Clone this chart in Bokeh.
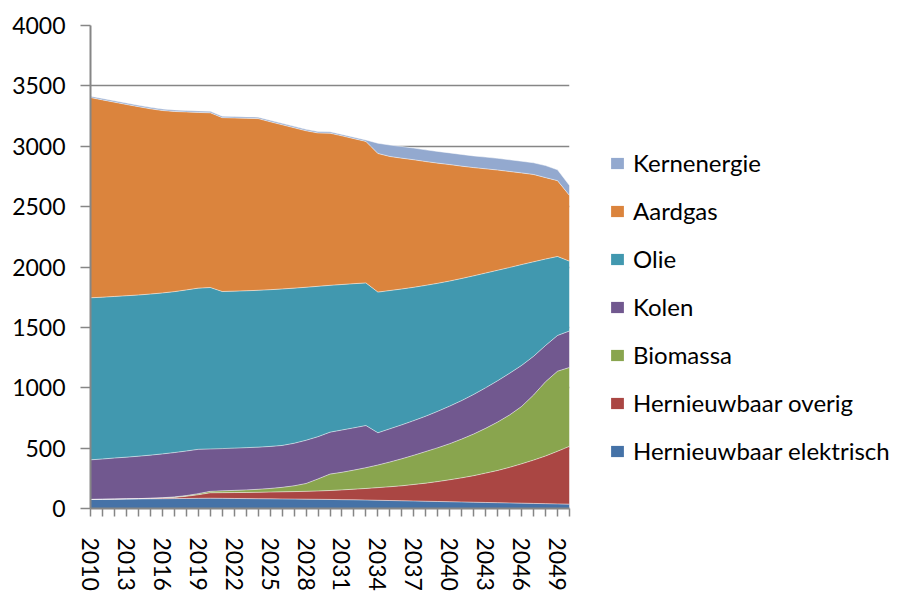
from bokeh.plotting import figure
from bokeh.models import (ColumnDataSource, Range1d, FixedTicker, Legend, LegendItem)
from bokeh.embed import file_html
from bokeh.resources import INLINE

years = list(range(2010, 2051))

hernieuwbaar_elektrisch = [75, 76, 77, 78, 79, 80, 81, 82, 83, 84, 85, 84, 83, 82, 81, 80, 79, 78, 77, 76,
                           75, 73, 72, 70, 68, 66, 64, 62, 60, 58, 56, 54, 52, 50, 48, 46, 44, 42, 40, 38, 36]
hernieuwbaar_overig = [0, 0, 1, 2, 3, 4, 6, 10, 18, 30, 45, 47, 49, 51, 53, 56, 59, 62, 65, 69,
                       74, 81, 88, 96, 105, 114, 124, 137, 150, 165, 182, 200, 220, 243, 267, 295, 326, 359, 395, 436, 479]
biomassa = [0, 0, 0, 0, 0, 1, 2, 4, 6, 9, 12, 15, 18, 21, 25, 30, 37, 48, 65, 100,
            136, 146, 158, 172, 187, 205, 224, 242, 262, 280, 299, 321, 345, 371, 401, 434, 475, 539, 615, 663, 653]
kolen = [328, 334, 340, 345, 351, 357, 363, 367, 369, 367, 351, 350, 350, 350, 349, 348, 347, 352, 358, 350,
         347, 350, 350, 349, 267, 275, 281, 287, 293, 302, 311, 319, 328, 336, 342, 345, 340, 320, 300, 296, 302]
olie = [1342, 1340, 1338, 1337, 1335, 1334, 1333, 1333, 1334, 1335, 1337, 1301, 1300, 1299, 1299, 1298, 1296, 1285, 1267, 1245,
        1216, 1205, 1194, 1181, 1165, 1145, 1125, 1104, 1083, 1060, 1036, 1011, 982, 950, 915, 876, 835, 783, 716, 654, 578]
aardgas = [1658, 1634, 1609, 1584, 1560, 1534, 1511, 1492, 1474, 1455, 1447, 1440, 1434, 1428, 1422, 1391, 1360, 1328, 1296, 1270,
           1260, 1231, 1201, 1172, 1148, 1110, 1083, 1056, 1025, 995, 964, 930, 896, 863, 830, 795, 759, 723, 674, 628, 544]
kernenergie = [12] * 24 + [85, 95] + [97] * 12 + [100, 90, 83]

series_names = ["Hernieuwbaar elektrisch", "Hernieuwbaar overig", "Biomassa", "Kolen", "Olie", "Aardgas", "Kernenergie"]
series_keys = ["he", "ho", "bio", "kolen", "olie", "gas", "kern"]
series_colors = ["#4572A7", "#AA4643", "#89A54E", "#71588F", "#4198AF", "#DB843D", "#93A9CF"]

y_ticks = [0, 500, 1000, 1500, 2000, 2500, 3000, 3500, 4000]
x_label_years = list(range(2010, 2051, 3))

source = ColumnDataSource(dict(year=years, he=hernieuwbaar_elektrisch, ho=hernieuwbaar_overig,
                               bio=biomassa, kolen=kolen, olie=olie, gas=aardgas, kern=kernenergie))

FONT = "Lato"
GRAY = "#868686"

p = figure(frame_width=479, frame_height=483, output_backend="svg", toolbar_location=None,
           x_range=Range1d(2010, 2050), y_range=Range1d(0, 4000),
           min_border_left=90, min_border_top=25, min_border_bottom=84, min_border_right=0)
p.outline_line_color = None
p.background_fill_color = "white"
p.border_fill_color = "white"

areas = p.varea_stack(stackers=series_keys, x="year", color=series_colors, source=source)
p.vline_stack(stackers=series_keys, x="year", source=source, line_color="white", line_alpha=0.5, line_width=1)

# axes
p.xgrid.visible = False
p.ygrid.ticker = FixedTicker(ticks=y_ticks)
p.ygrid.grid_line_color = GRAY
p.ygrid.grid_line_width = 1.5

p.yaxis.ticker = FixedTicker(ticks=y_ticks)
p.yaxis.axis_line_color = GRAY
p.yaxis.axis_line_width = 2
p.yaxis.major_tick_line_color = GRAY
p.yaxis.major_tick_line_width = 1.5
p.yaxis.major_tick_in = 0
p.yaxis.major_tick_out = 10
p.yaxis.minor_tick_line_color = None
p.yaxis.major_label_standoff = 15
p.yaxis.major_label_text_font = FONT
p.yaxis.major_label_text_font_size = "23px"
p.yaxis.major_label_text_color = "black"

p.xaxis.ticker = FixedTicker(ticks=years)
p.xaxis.major_label_overrides = {y: (str(y) if y in x_label_years else "") for y in years}
p.xaxis.axis_line_color = GRAY
p.xaxis.axis_line_width = 2
p.xaxis.major_tick_line_color = GRAY
p.xaxis.major_tick_line_width = 1.5
p.xaxis.major_tick_in = 0
p.xaxis.major_tick_out = 8
p.xaxis.minor_tick_line_color = None
p.xaxis.major_label_orientation = "vertical"
p.xaxis.major_label_standoff = 21
p.xaxis.major_label_text_font = FONT
p.xaxis.major_label_text_font_size = "23px"
p.xaxis.major_label_text_color = "black"

items = [LegendItem(label=series_names[i], renderers=[areas[i]]) for i in reversed(range(len(series_names)))]
legend = Legend(items=items, location=(40, 43), orientation="vertical",
                glyph_width=16, glyph_height=14, label_standoff=8,
                label_height=29, spacing=19, padding=0, margin=0,
                label_text_font=FONT, label_text_font_size="24px", label_text_color="black",
                border_line_color=None, background_fill_alpha=0)
p.add_layout(legend, "right")

open("out.html", "w").write(file_html(p, INLINE))
